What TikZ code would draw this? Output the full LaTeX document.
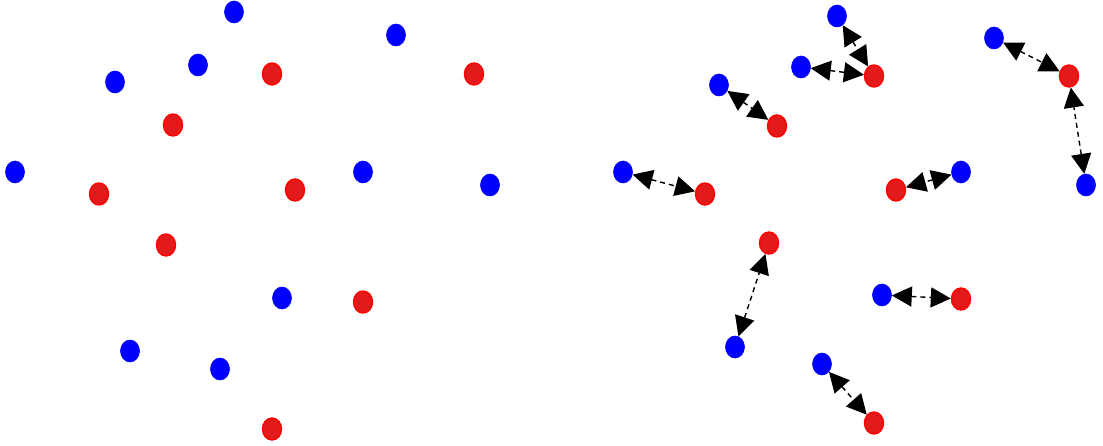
\documentclass[tikz,border=0pt]{standalone}
\usetikzlibrary{arrows.meta,shapes.geometric}
\definecolor{dotblue}{RGB}{0,0,255}
\definecolor{dotred}{RGB}{226,26,28}
\definecolor{rimred}{RGB}{255,0,0}
\begin{document}
\begin{tikzpicture}[x=1pt,y=-1pt,
  bdot/.style={ellipse,fill=dotblue,draw=dotblue,line width=0.6pt,minimum width=19pt,minimum height=22pt,inner sep=0pt},
  rdot/.style={ellipse,fill=dotred,draw=rimred,line width=1.4pt,minimum width=19pt,minimum height=22pt,inner sep=0pt},
  pair/.style={{Triangle[length=20pt,width=20pt]}-{Triangle[length=20pt,width=20pt]},line width=1.4pt,dash pattern=on 5pt off 4pt,black}]
\useasboundingbox (0,0) rectangle (1103,446);
\node[bdot] (u1) at (234,12) {};
\node[bdot] (u2) at (396,35) {};
\node[bdot] (u3) at (115,82) {};
\node[bdot] (u4) at (198,65) {};
\node[bdot] (u5) at (15,172) {};
\node[bdot] (u6) at (363,172) {};
\node[bdot] (u7) at (490,185) {};
\node[bdot] (u8) at (282,298) {};
\node[bdot] (u9) at (130,351) {};
\node[bdot] (u10) at (220,369) {};
\node[rdot] (v1) at (272,74) {};
\node[rdot] (v2) at (474,74) {};
\node[rdot] (v3) at (173,125) {};
\node[rdot] (v4) at (99,194) {};
\node[rdot] (v5) at (295,190) {};
\node[rdot] (v6) at (166,245) {};
\node[rdot] (v7) at (363,302) {};
\node[rdot] (v8) at (272,429) {};
\node[bdot] (b1) at (837,16) {};
\node[bdot] (b2) at (801,67) {};
\node[bdot] (b3) at (994,38) {};
\node[bdot] (b4) at (1086,185) {};
\node[bdot] (b5) at (719,85) {};
\node[bdot] (b6) at (623,172) {};
\node[bdot] (b7) at (961,172) {};
\node[bdot] (b8) at (735,347) {};
\node[bdot] (b9) at (882,295) {};
\node[bdot] (b10) at (822,364) {};
\node[rdot] (r1) at (874,76) {};
\node[rdot] (r2) at (1069,76) {};
\node[rdot] (r3) at (777,126) {};
\node[rdot] (r4) at (705,194) {};
\node[rdot] (r5) at (896,190) {};
\node[rdot] (r6) at (769,243) {};
\node[rdot] (r7) at (961,299) {};
\node[rdot] (r8) at (874,423) {};
\foreach \from/\to in {b1/r1,b2/r1,b3/r2,b4/r2,b5/r3,b6/r4,b7/r5,b8/r6,b9/r7,b10/r8}
  \draw[pair] (\from)--(\to);
\end{tikzpicture}
\end{document}
